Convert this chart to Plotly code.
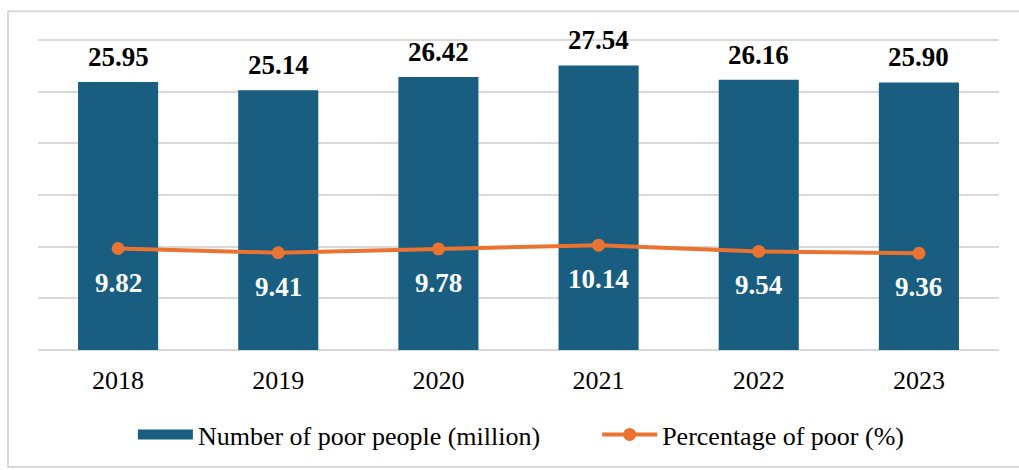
import plotly.graph_objects as go

years = ["2018", "2019", "2020", "2021", "2022", "2023"]
poor_people = [25.95, 25.14, 26.42, 27.54, 26.16, 25.90]
poor_pct = [9.82, 9.41, 9.78, 10.14, 9.54, 9.36]

BAR_COLOR = "#195E80"
LINE_COLOR = "#EB7332"
FONT = "Liberation Serif, Times New Roman, serif"
GAP = "\u00a0" * 8

fig = go.Figure()

fig.add_trace(go.Bar(
    x=years, y=poor_people, name="Number of poor people (million)",
    marker=dict(color=BAR_COLOR, line=dict(width=0)),
    showlegend=False, hoverinfo="x+y",
))
# legend entry for bars (wide swatch like the reference)
fig.add_trace(go.Scatter(
    x=[years[0]], y=[None], mode="lines", name="Number of poor people (million)" + GAP,
    line=dict(color=BAR_COLOR, width=15), showlegend=True, hoverinfo="skip",
))
fig.add_trace(go.Scatter(
    x=years, y=poor_pct, mode="lines+markers", name="Percentage of poor (%)",
    line=dict(color=LINE_COLOR, width=4),
    marker=dict(color=LINE_COLOR, size=13),
))

# category axis annotations are positioned by category index
annotations = []
for i, v in enumerate(poor_people):
    annotations.append(dict(
        x=i, y=v, xref="x", yref="y", text=f"{v:.2f}", showarrow=False,
        yanchor="middle", yshift=25,
        font=dict(family=FONT, size=27, color="black", weight="bold"),
    ))
for i, v in enumerate(poor_pct):
    annotations.append(dict(
        x=i, y=v, xref="x", yref="y", text=f"{v:.2f}", showarrow=False,
        yanchor="middle", yshift=-34,
        font=dict(family=FONT, size=27, color="white", weight="bold"),
    ))

fig.update_layout(
    width=1019, height=470,
    margin=dict(l=38, r=20, t=38, b=116),
    paper_bgcolor="white", plot_bgcolor="white",
    bargap=0.5,
    font=dict(family=FONT, size=26, color="black"),
    annotations=annotations,
    legend=dict(
        orientation="h", x=0.503, xanchor="center", y=-0.2627, yanchor="middle",
        font=dict(family=FONT, size=26, color="black"),
        itemwidth=55, traceorder="normal",
    ),
    shapes=[dict(
        type="rect", xref="paper", yref="paper",
        x0=-0.0312, x1=1.05, y0=-0.366, y1=1.0854,
        line=dict(color="#d9d9d9", width=2), layer="below",
    )],
)
fig.update_xaxes(
    type="category", categoryorder="array", categoryarray=years,
    showline=False, ticks="", ticklabelstandoff=10,
    tickfont=dict(family=FONT, size=26, color="black"),
)
fig.update_yaxes(
    range=[-0.2, 30.2], tickmode="array", tickvals=[0, 5, 10, 15, 20, 25, 30],
    showticklabels=False, showline=False,
    gridcolor="#d9d9d9", gridwidth=2, zeroline=False,
)

fig.write_html(
    "out.html",
    config={"displayModeBar": False},
    post_script="document.body.style.margin='0px';",
)
